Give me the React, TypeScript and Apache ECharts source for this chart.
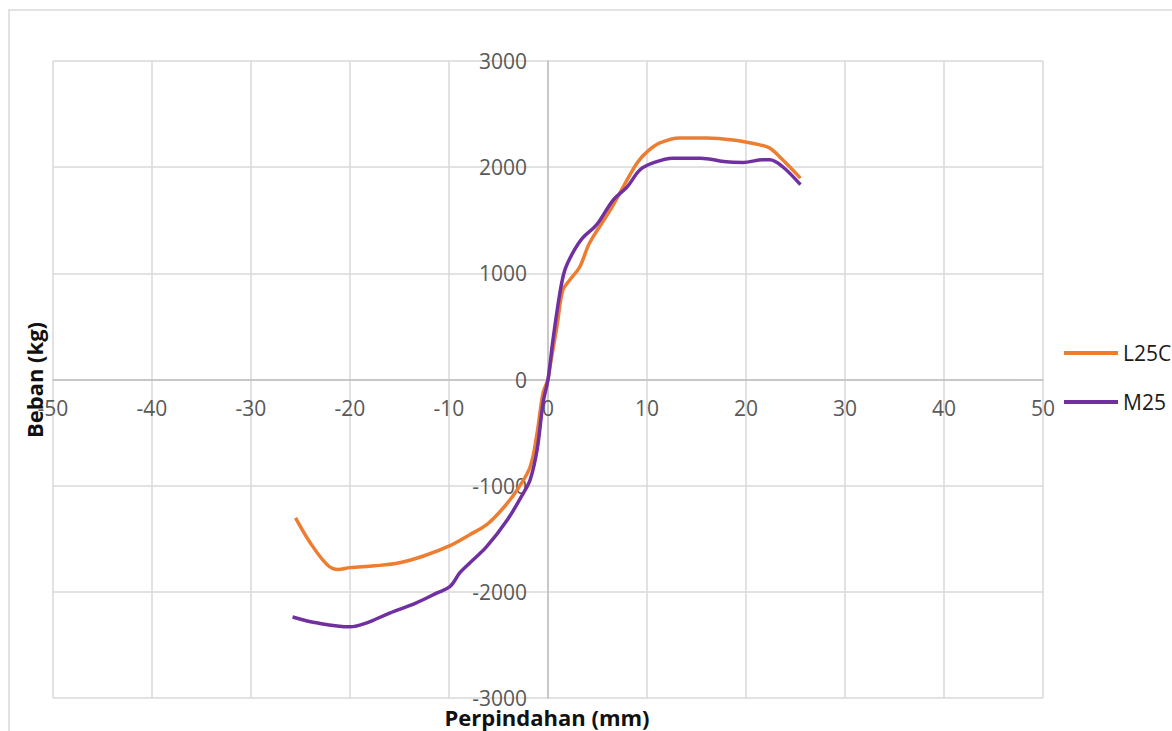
import React, { useEffect, useRef } from "react";
import * as echarts from "echarts";

const seriesNames = ["L25C", "M25"];

const l25cX = [-25.5, -24, -22.3, -21.2, -20, -17.5, -15, -12.5, -9.9, -7.9, -6.2, -4.5, -3.1, -1.8, -1.1, -0.5, 0, 0.2, 0.9, 1.5, 2.2, 3.2, 4.2, 6.3, 7.6, 9, 10, 11.3, 13.3, 16, 18.7, 21.4, 22.4, 23.7, 25.5];
const l25cY = [-1303, -1540, -1745, -1790, -1772, -1755, -1726, -1660, -1565, -1462, -1368, -1208, -1038, -822, -502, -125, 0, 120, 497, 842, 937, 1060, 1286, 1597, 1815, 2040, 2144, 2228, 2275, 2275, 2256, 2210, 2180, 2069, 1897];

const m25X = [-25.8, -23.4, -20, -18.3, -16, -13.3, -11.2, -9.9, -8.9, -7.9, -6.2, -4.1, -2.5, -1.8, -1.1, -0.5, 0, 0.5, 1.2, 1.7, 2.5, 3.5, 4.9, 6.6, 8, 9.3, 10.6, 12.6, 15.4, 18, 19.7, 21.7, 22.4, 23.7, 25.5];
const m25Y = [-2237, -2292, -2330, -2292, -2200, -2104, -2010, -1950, -1820, -1728, -1575, -1321, -1072, -944, -662, -222, 0, 372, 815, 1030, 1192, 1333, 1456, 1692, 1815, 1975, 2040, 2085, 2085, 2050, 2045, 2069, 2069, 2004, 1835];

const xTicks = { min: -50, max: 50, interval: 10 };
const yTicks = { min: -3000, max: 3000, interval: 1000 };

const xTitle = "Perpindahan (mm)";
const yTitle = "Beban (kg)";

const colors = ["#ED7D31", "#7030A0"];

const zip = (xs: number[], ys: number[]) => xs.map((x, i) => [x, ys[i]]);

export default function App() {
  const ref = useRef<HTMLDivElement>(null);
  useEffect(() => {
    if (!ref.current) return;
    const chart = echarts.init(ref.current, null, { renderer: "svg" });
    const font = "'Open Sans', 'Noto Sans', sans-serif";
    const gridLeft = 53, gridRight = 129, gridTop = 61, gridBottom = 33;
    const plotW = 1172 - gridLeft - gridRight;
    const plotH = 731 - gridTop - gridBottom;
    // shift the axes (with their labels) onto the zero lines
    const yAxisOffset = -plotW * (0 - xTicks.min) / (xTicks.max - xTicks.min);
    const xAxisOffset = -plotH * (0 - yTicks.min) / (yTicks.max - yTicks.min);
    const plain = (v: number) => String(v);
    chart.setOption({
      animation: false,
      backgroundColor: "#ffffff",
      color: colors,
      grid: { left: gridLeft, right: gridRight, top: gridTop, bottom: gridBottom, containLabel: false, outerBoundsMode: "none" },
      xAxis: {
        type: "value",
        position: "bottom",
        offset: xAxisOffset,
        min: xTicks.min,
        max: xTicks.max,
        interval: xTicks.interval,
        axisLine: { show: true, onZero: false, lineStyle: { color: "#bfbfbf", width: 1.5 } },
        axisTick: { show: false },
        axisLabel: { formatter: plain, color: "#595959", fontSize: 21, fontFamily: font, margin: 18, hideOverlap: false, showMinLabel: true, showMaxLabel: true },
        splitLine: { show: true, lineStyle: { color: "#d9d9d9", width: 1.5 } },
      },
      yAxis: {
        type: "value",
        position: "left",
        offset: yAxisOffset,
        min: yTicks.min,
        max: yTicks.max,
        interval: yTicks.interval,
        axisLine: { show: true, onZero: false, lineStyle: { color: "#bfbfbf", width: 1.5 } },
        axisTick: { show: false },
        axisLabel: { formatter: plain, color: "#595959", fontSize: 21, fontFamily: font, margin: 21, hideOverlap: false, showMinLabel: true, showMaxLabel: true },
        splitLine: { show: true, lineStyle: { color: "#d9d9d9", width: 1.5 } },
      },
      legend: {
        orient: "vertical",
        left: 1059,
        top: 334,
        itemWidth: 54,
        itemHeight: 4,
        itemGap: 21,
        icon: "rect",
        data: seriesNames,
        textStyle: { fontSize: 21, fontFamily: font, color: "#1a1a1a", lineHeight: 28 },
      },
      graphic: [
        {
          type: "rect",
          shape: { x: 9, y: 10, width: 1200, height: 800 },
          style: { fill: "none", stroke: "#d9d9d9", lineWidth: 1.5 },
          silent: true,
          z: -10,
        },
        {
          type: "text",
          x: 547,
          y: 717,
          style: { text: xTitle, fontSize: 22, fontWeight: "bold", fontFamily: font, fill: "#111111", textAlign: "center", textVerticalAlign: "middle" },
        },
        {
          type: "text",
          x: 34,
          y: 380,
          rotation: Math.PI / 2,
          style: { text: yTitle, fontSize: 22, fontWeight: "bold", fontFamily: font, fill: "#111111", textAlign: "center", textVerticalAlign: "middle" },
        },
      ],
      series: [
        {
          name: seriesNames[0],
          type: "line",
          data: zip(l25cX, l25cY),
          smooth: 0.35,
          showSymbol: false,
          lineStyle: { width: 3.5, color: colors[0] },
          itemStyle: { color: colors[0] },
        },
        {
          name: seriesNames[1],
          type: "line",
          data: zip(m25X, m25Y),
          smooth: 0.35,
          showSymbol: false,
          lineStyle: { width: 3.5, color: colors[1] },
          itemStyle: { color: colors[1] },
        },
      ],
    });
    return () => chart.dispose();
  }, []);
  return (
    <div
      ref={ref}
      style={{ position: "fixed", left: 0, top: 0, width: 1172, height: 731 }}
    />
  );
}
